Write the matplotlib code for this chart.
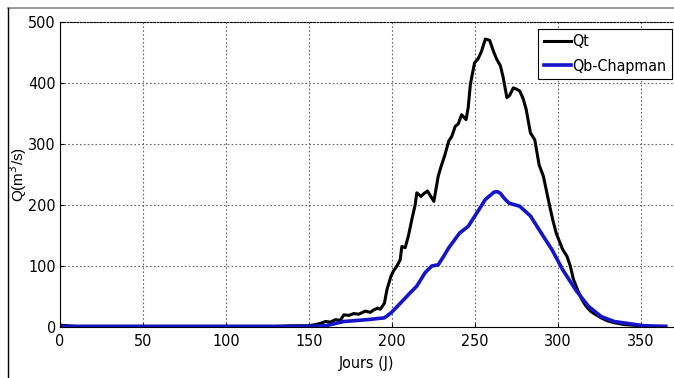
import matplotlib
matplotlib.use("Agg")
import matplotlib.pyplot as plt
from matplotlib.lines import Line2D

# Qt (total discharge)
qt_days = [0, 5, 10, 50, 100, 130, 140, 150, 154, 157, 160, 163, 166, 169, 171, 174, 177, 180,
           184, 187, 189, 191.6, 193, 195.5, 197, 199.4, 201, 203, 205, 206, 208, 210, 212, 214, 215,
           217.5, 219, 221.4, 223, 225.3, 227.9, 229.5, 231.7, 234.3, 236, 238.2, 240, 242, 244.7,
           246, 247.3, 249.8, 252, 254, 256.3, 258.9, 261.5, 263, 265.4, 267, 269.3, 271,
           273.2, 275, 277, 279, 280.9, 283.5, 286.1, 288.7, 291.3, 293, 295.1, 297, 299,
           301, 302.9, 305.5, 307.5, 309.4, 312, 314.5, 317, 319.7, 323, 326, 330, 334, 340,
           345, 350, 355, 360, 365]
qt_vals = [3, 2, 1, 1, 1, 1, 2, 2, 4, 6, 9, 8, 12, 11, 20, 19, 22, 21,
           26, 24, 28, 31, 29, 39, 61, 83, 92, 100, 110, 132, 130, 150, 176, 200, 220,
           214, 218, 223, 216, 206, 247, 262, 280, 305, 312, 329, 333, 348, 340,
           360, 398, 433, 440, 452, 472, 470, 450, 440, 428, 410, 376, 380,
           392, 390, 387, 375, 357, 318, 307, 266, 247, 225, 198, 175, 154,
           140, 127, 116, 100, 78, 60, 45, 34, 26, 20, 15, 10, 7, 4,
           3, 2, 1, 1, 1]

# Qb (Chapman baseflow)
qb_days = [0, 50, 100, 150, 160, 171, 185, 195.5, 199.4, 203, 207.2, 211, 215, 220, 224, 227.9,
           231, 234.3, 240.8, 246, 251.2, 256.3, 261.5, 263.5, 265.4, 268, 270.6, 277,
           283.5, 290, 296.4, 302.9, 310.7, 318.4, 326.2, 334, 344.3, 352, 365]
qb_vals = [1, 1, 1, 1, 2, 9, 12, 15, 23, 33, 45, 56, 67, 89, 100, 102,
           115, 130, 154, 165, 187, 209, 221, 222, 219, 210, 203, 198,
           182, 154, 127, 94, 61, 34, 17, 9, 5, 2, 1]

x_ticks = [0, 50, 100, 150, 200, 250, 300, 350]
y_ticks = [0, 100, 200, 300, 400, 500]

cond = dict(family="DejaVu Sans", stretch="condensed")

fig = plt.figure(figsize=(6.74, 3.78), dpi=100)
ax = fig.add_axes([60 / 674, 51 / 378, 614 / 674, 305 / 378])

ax.plot(qt_days, qt_vals, color="black", lw=2.2, label="Qt")
ax.plot(qb_days, qb_vals, color="#1414c8", lw=2.6, label="Qb-Chapman")

ax.set_xlim(0, 370)
ax.set_ylim(0, 500)
ax.set_xticks(x_ticks)
ax.set_yticks(y_ticks)
ax.grid(True, linestyle=(0, (1.5, 2)), color="#666666", linewidth=0.8)
ax.tick_params(direction="in", length=3, labelsize=11.5)
ax.tick_params(axis="x", pad=5)
ax.tick_params(axis="y", pad=3)
for lbl in ax.get_xticklabels() + ax.get_yticklabels():
    lbl.set_family("DejaVu Sans")
    lbl.set_stretch("condensed")
for s in ax.spines.values():
    s.set_linewidth(0.8)
ax.spines["top"].set_linestyle((0, (1.5, 1.5)))
ax.spines["right"].set_visible(False)

ax.set_xlabel("Jours (J)", fontsize=11.5, labelpad=5, **cond)
ax.set_ylabel("Q(m$^3$/s)", fontsize=11, family="Liberation Sans")
ax.yaxis.set_label_coords(-0.05, 0.5)

leg = ax.legend(loc="upper right", bbox_to_anchor=(0.997, 0.978),
                prop={"family": "DejaVu Sans", "stretch": "condensed", "size": 11.5},
                handlelength=1.7, handletextpad=0.1, borderpad=0.35, labelspacing=0.6,
                fancybox=False, framealpha=1, edgecolor="black", borderaxespad=0)
leg.get_frame().set_linewidth(0.8)

# outer frame lines
fig.add_artist(Line2D([8 / 674, 1], [1 - 8 / 378, 1 - 8 / 378], color="#888888", lw=1.2,
                      transform=fig.transFigure))
fig.add_artist(Line2D([8 / 674, 8 / 674], [0, 1 - 8 / 378], color="black", lw=1,
                      transform=fig.transFigure))

fig.savefig("out.png", dpi=100)
